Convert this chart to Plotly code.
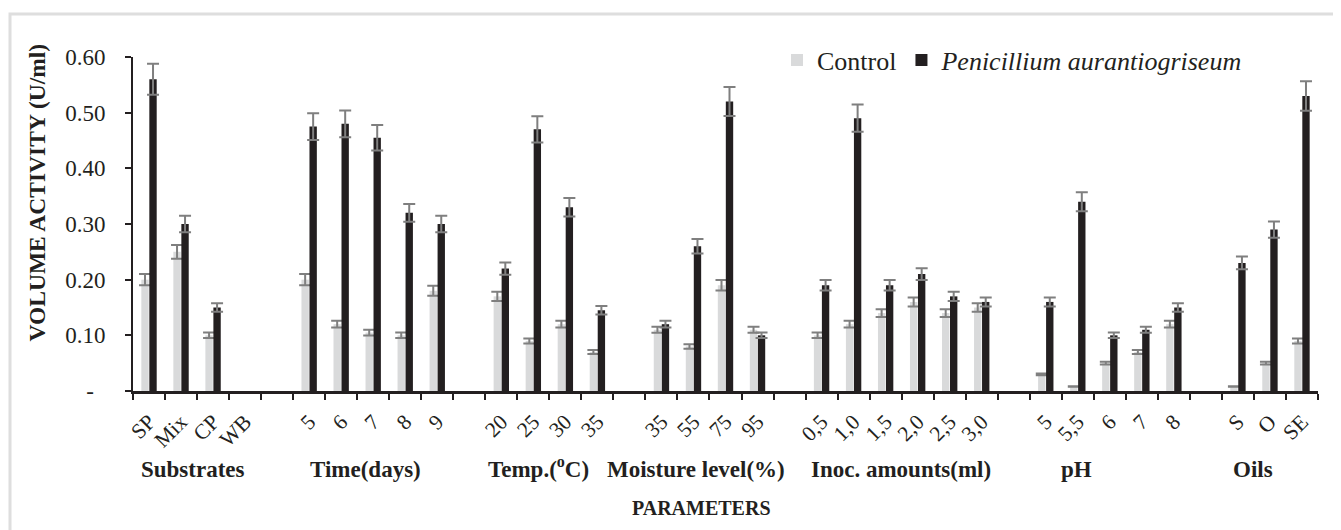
import plotly.graph_objects as go

categories = ["SP", "Mix", "CP", "WB", "",
              "5", "6", "7", "8", "9", "",
              "20", "25", "30", "35", "",
              "35", "55", "75", "95", "",
              "0,5", "1,0", "1,5", "2,0", "2,5", "3,0", "",
              "5", "5,5", "6", "7", "8", "",
              "S", "O", "SE"]

control = [0.20, 0.25, 0.10, None, None,
           0.20, 0.12, 0.105, 0.10, 0.18, None,
           0.17, 0.09, 0.12, 0.07, None,
           0.11, 0.08, 0.19, 0.11, None,
           0.10, 0.12, 0.14, 0.16, 0.14, 0.15, None,
           0.03, 0.008, 0.05, 0.07, 0.12, None,
           0.008, 0.05, 0.09]
control_err = [0.010, 0.0125, 0.005, None, None,
               0.010, 0.006, 0.00525, 0.005, 0.009, None,
               0.0085, 0.0045, 0.006, 0.0035, None,
               0.0055, 0.004, 0.0095, 0.0055, None,
               0.005, 0.006, 0.007, 0.008, 0.007, 0.0075, None,
               0.0015, 0.0004, 0.0025, 0.0035, 0.006, None,
               0.0004, 0.0025, 0.0045]

penicillium = [0.56, 0.30, 0.15, None, None,
               0.475, 0.48, 0.455, 0.32, 0.30, None,
               0.22, 0.47, 0.33, 0.145, None,
               0.12, 0.26, 0.52, 0.10, None,
               0.19, 0.49, 0.19, 0.21, 0.17, 0.16, None,
               0.16, 0.34, 0.10, 0.11, 0.15, None,
               0.23, 0.29, 0.53]
penicillium_err = [0.028, 0.015, 0.0075, None, None,
                   0.024, 0.024, 0.023, 0.016, 0.015, None,
                   0.011, 0.0235, 0.0165, 0.0075, None,
                   0.006, 0.013, 0.026, 0.005, None,
                   0.0095, 0.0245, 0.0095, 0.0105, 0.0085, 0.008, None,
                   0.008, 0.017, 0.005, 0.0055, 0.0075, None,
                   0.0115, 0.0145, 0.0265]

group_labels = ["Substrates", "Time(days)", "Temp.(<sup>o</sup>C)", "Moisture level(%)",
                "Inoc. amounts(ml)", "pH", "Oils"]
group_centers = [1.375, 6.75, 12.16, 17.09, 23.47, 28.97, 34.47]

y_tickvals = [0, 0.1, 0.2, 0.3, 0.4, 0.5, 0.6]
y_ticktext = ["-\u00a0\u00a0", "0.10", "0.20", "0.30", "0.40", "0.50", "0.60"]

FONT = "Liberation Serif"
INK = "#231f20"
ERR = "#7f7f7f"

# The page body has an 8px margin, so the figure is drawn 8px in from the window.
PAGE = 8
FIG_W, FIG_H = 1341 - PAGE, 530 - PAGE
# plot-area geometry in window pixels
L, R, T, B = 133, 1318, 57, 391
W, H = R - L, B - T


def px(xp):
    return (xp - L) / W


def py(yp):
    return (B - yp) / H


xpos = list(range(len(categories)))
label_pos = [i for i, c in enumerate(categories) if c]
label_txt = [c for c in categories if c]
boundaries = [i - 0.5 for i in range(len(categories) + 1)]

fig = go.Figure()
fig.add_trace(go.Bar(
    x=xpos, y=control, name="Control",
    marker=dict(color="#d9dadb", line=dict(width=0)),
    error_y=dict(type="data", array=control_err, visible=True,
                 color=ERR, thickness=2, width=6),
))
fig.add_trace(go.Bar(
    x=xpos, y=penicillium, name="<i>Penicillium aurantiogriseum</i>",
    marker=dict(color=INK, line=dict(width=0)),
    error_y=dict(type="data", array=penicillium_err, visible=True,
                 color=ERR, thickness=2, width=6),
))

for lab, xc in zip(group_labels, group_centers):
    fig.add_annotation(x=xc, xref="x", y=py(484), yref="paper",
                       text="<b>" + lab + "</b>", showarrow=False,
                       font=dict(family=FONT, size=23, color=INK),
                       xanchor="center", yanchor="bottom")

fig.add_annotation(x=px(701), xref="paper", y=py(508), yref="paper",
                   text="<b>PARAMETERS</b>", showarrow=False,
                   font=dict(family=FONT, size=20, color=INK),
                   xanchor="center", yanchor="middle")

fig.add_annotation(x=px(36.5), xref="paper", y=py(193), yref="paper",
                   text="<b>VOLUME ACTIVITY (U/ml)</b>", showarrow=False, textangle=-90,
                   font=dict(family=FONT, size=23.5, color=INK),
                   xanchor="center", yanchor="middle")

fig.add_shape(type="rect", xref="paper", yref="paper",
              x0=px(10), x1=px(1337), y0=py(545), y1=py(14),
              line=dict(color="#dedede", width=3), fillcolor="rgba(0,0,0,0)", layer="below")

fig.update_layout(
    width=FIG_W, height=FIG_H, autosize=False,
    margin=dict(l=L - PAGE, r=1341 - R, t=T - PAGE, b=530 - B, autoexpand=False),
    paper_bgcolor="white", plot_bgcolor="white",
    font=dict(family=FONT, size=22, color=INK),
    barmode="group", bargap=0.5, bargroupgap=0.08,
    showlegend=True,
    legend=dict(orientation="h", x=px(777), xanchor="left",
                y=py(60), yanchor="middle",
                font=dict(family=FONT, size=26, color=INK),
                bgcolor="rgba(0,0,0,0)", itemwidth=30),
    xaxis=dict(range=[-0.5, len(categories) - 0.5], tickmode="array",
               tickvals=label_pos, ticktext=label_txt, tickangle=-45,
               ticks="", showgrid=False, zeroline=False, ticklabelstandoff=7,
               showline=True, linecolor=INK, linewidth=2.5,
               tickfont=dict(family=FONT, size=21.5, color=INK),
               minor=dict(tickmode="array", tickvals=boundaries, ticks="outside",
                          ticklen=6, tickwidth=2, tickcolor=INK, showgrid=False)),
    yaxis=dict(range=[0, 0.6], tickmode="array", tickvals=y_tickvals, ticktext=y_ticktext,
               ticks="outside", ticklen=6, tickwidth=2, tickcolor=INK, ticklabelstandoff=15,
               showgrid=False, zeroline=False, showline=True, linecolor=INK, linewidth=2,
               tickfont=dict(family=FONT, size=23, color=INK)),
)

fig.write_html("out.html")
